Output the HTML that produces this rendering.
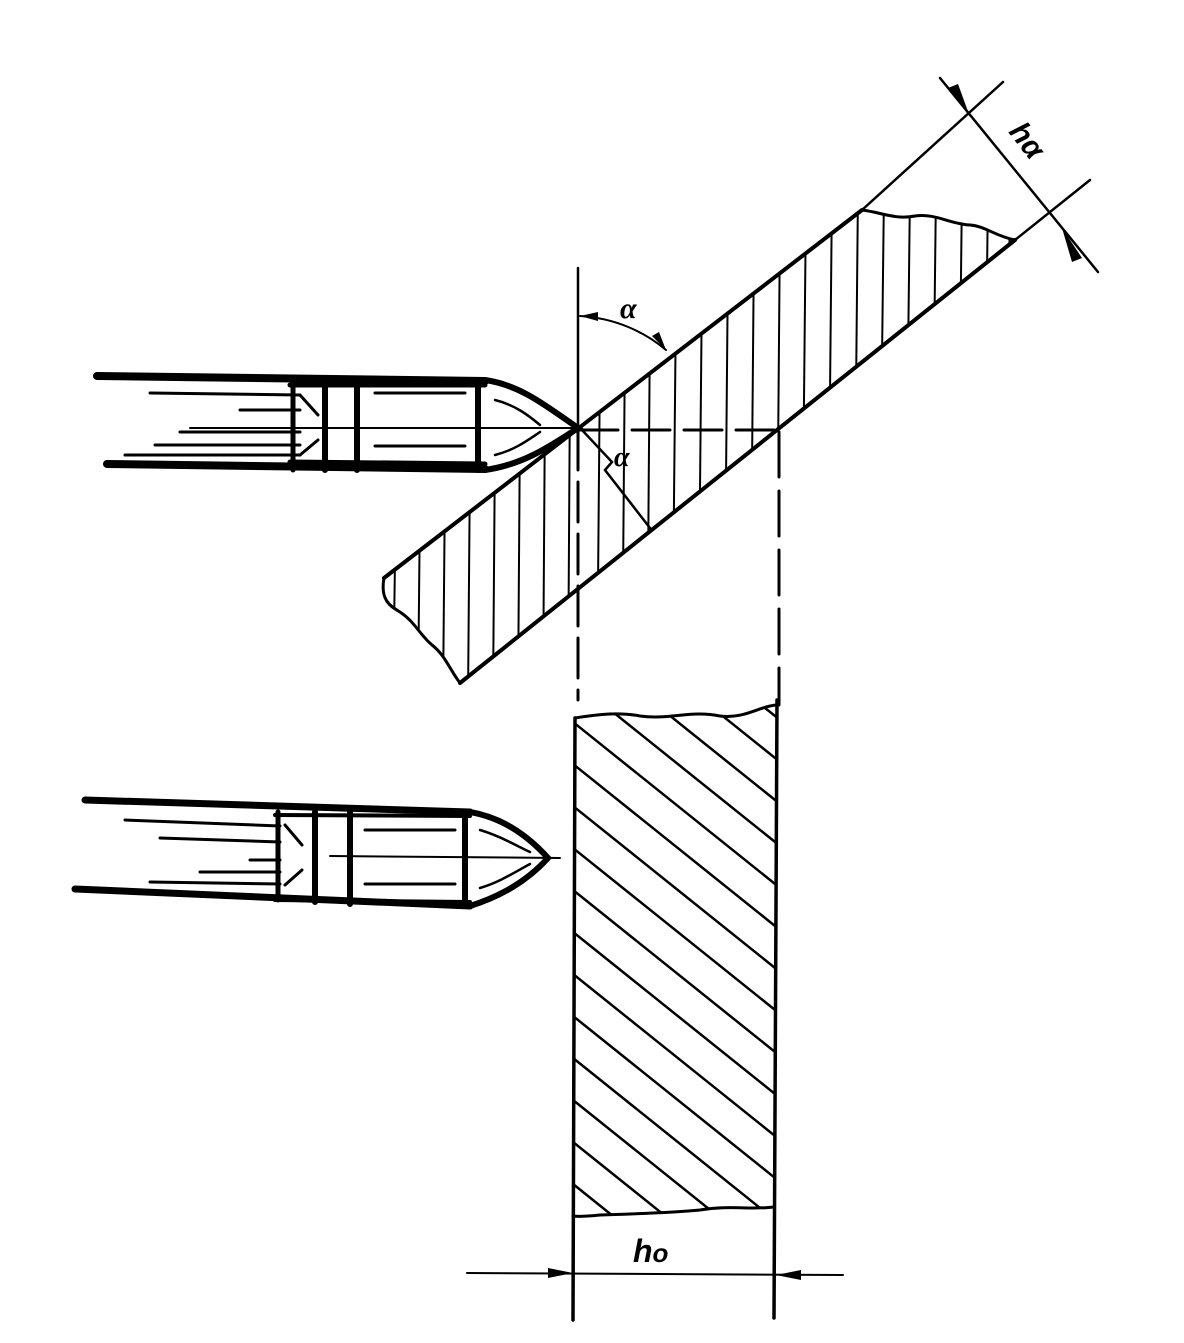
<!DOCTYPE html>
<html><head><meta charset="utf-8"><style>html,body{margin:0;padding:0;background:#fff}svg{display:block}</style></head>
<body>
<svg width="1184" height="1343" viewBox="0 0 1184 1343" xmlns="http://www.w3.org/2000/svg">
<defs>
<clipPath id="slab"><path d="M384,578 L862,210 C880,212 895,220 915,216 C935,213 950,224 970,225 C985,226 995,236 1015,240 L460,683 C450,670 445,655 432,645 C420,635 415,622 400,612 C390,606 380,600 384,578 Z"/></clipPath>
<clipPath id="rect"><path d="M575,718 C600,714 620,712 640,716 C670,720 690,710 720,716 C745,719 760,706 776,705 L774,1207 C750,1210 730,1205 700,1210 C670,1213 630,1214 600,1215 C590,1216 580,1217 573,1216 Z"/></clipPath>
</defs>
<g fill="none" stroke="#000" stroke-linecap="round">
<g clip-path="url(#slab)" stroke-width="2">
<path d="M395,560 L393,700 M420,500 L418,700 M445,480 L443,700 M470,460 L468,700 M495,440 L493,700 M520,420 L518,700 M545,400 L543,700 M570,380 L568,700 M600,360 L597,700 M625,340 L622,700 M650,320 L647,700 M676,300 L672,700 M702,280 L698,700 M728,260 L724,700 M754,240 L750,700 M780,220 L776,700 M806,200 L801,700 M832,190 L827,700 M858,190 L853,700 M884,190 L878,700 M910,190 L904,700 M936,190 L930,700 M962,190 L956,700 M988,190 L982,700 M1010,190 L1005,700"/>
</g>
<path d="M384,578 L862,210" stroke-width="4"/>
<path d="M460,683 L1015,240" stroke-width="4"/>
<path d="M862,210 C880,212 895,220 915,216 C935,213 950,224 970,225 C985,226 995,236 1015,240" stroke-width="3"/>
<path d="M384,578 C380,600 390,606 400,612 C415,622 420,635 432,645 C445,655 450,670 460,683" stroke-width="3"/>
<path d="M862,210 L1003,82" stroke-width="2.5"/>
<path d="M1015,240 L1090,180" stroke-width="2.5"/>
<path d="M940,78 L1098,272" stroke-width="2.5"/>
<g clip-path="url(#rect)" stroke-width="2.5">
<path d="M573,512 L800,694 M573,554 L800,736 M573,596 L800,778 M573,638 L800,820 M573,680 L800,862 M573,722 L800,904 M573,764 L800,946 M573,806 L800,988 M573,848 L800,1030 M573,890 L800,1072 M573,932 L800,1114 M573,974 L800,1156 M573,1016 L800,1198 M573,1058 L800,1240 M573,1100 L800,1282 M573,1142 L800,1324 M573,1184 L800,1366"/>
</g>
<path d="M575,718 C600,714 620,712 640,716 C670,720 690,710 720,716 C745,719 760,706 776,705" stroke-width="3"/>
<path d="M573,1216 C580,1217 590,1216 600,1215 C630,1214 670,1213 700,1210 C730,1205 750,1210 774,1207" stroke-width="3"/>
<path d="M575,718 L573,1320" stroke-width="3.5"/>
<path d="M777,700 L774,1318" stroke-width="3.5"/>
<path d="M578,268 L578,430" stroke-width="2.5"/>
<path d="M578,430 L578,700" stroke-width="3" stroke-dasharray="40,12"/>
<path d="M779,432 L779,705" stroke-width="3" stroke-dasharray="45,14"/>
<path d="M580,430 L779,430" stroke-width="3" stroke-dasharray="38,14"/>
<path d="M582,430 L612,462 L605,470 L650,528" stroke-width="2.5"/>
<path d="M580,316 C615,318 645,332 666,350" stroke-width="2"/>
<path d="M467,1273 L843,1275" stroke-width="2"/>
</g>
<g fill="#000">
<path d="M573,1273 L548,1268 L548,1278 Z"/>
<path d="M776,1275 L801,1270 L801,1280 Z"/>
<path d="M970,117 L948,88 L958,84 Z"/>
<path d="M1062,228 L1082,258 L1072,262 Z"/>
<path d="M580,316 L598,312 L598,321 Z"/>
<path d="M666,350 L652,336 L659,332 Z"/>
</g>
<g font-family="Liberation Serif, serif" font-style="italic" font-weight="bold" fill="#000">
<text x="620" y="318" font-size="30">α</text>
<text x="614" y="466" font-size="28">α</text>
<text x="633" y="1262" font-size="32" font-family="Liberation Sans, sans-serif">h<tspan font-size="26">o</tspan></text>
<text x="0" y="0" font-size="30" font-family="Liberation Sans, sans-serif" transform="translate(1008,132) rotate(52)">hα</text>
</g>
<g stroke="#000" fill="none" stroke-linecap="round">
<path d="M97,376 L485,381" stroke-width="8"/>
<path d="M107,464 L485,469" stroke-width="8"/>
<path d="M290,385 L485,385 M290,462 L485,464" stroke-width="5"/>
<path d="M150,393 L300,395 M240,410 L300,410 M180,432 L300,432 M155,445 L300,445 M125,455 L300,455" stroke-width="3"/>
<path d="M293,380 L293,470" stroke-width="5"/>
<path d="M325,380 L325,470 M357,380 L357,470 M478,380 L478,470" stroke-width="6"/>
<path d="M485,380 C520,385 545,405 578,428 C545,450 520,465 485,470" stroke-width="6"/>
<path d="M190,428 L580,428" stroke-width="2"/>
<path d="M375,393 L465,393 M375,446 L465,446 M300,395 L318,415 M300,455 L318,440" stroke-width="3"/>
<path d="M495,400 C515,405 528,415 540,425 M495,455 C515,450 528,440 540,432" stroke-width="2.5"/>
</g>
<g stroke="#000" fill="none" stroke-linecap="round">
<path d="M85,800 L470,812" stroke-width="7"/>
<path d="M75,889 L470,906" stroke-width="7"/>
<path d="M275,815 L470,816 M275,900 L470,902" stroke-width="4"/>
<path d="M125,820 L280,826 M160,838 L280,842 M250,860 L280,860 M200,872 L280,872 M150,882 L280,884" stroke-width="3"/>
<path d="M278,812 L278,900" stroke-width="5"/>
<path d="M315,812 L315,902 M350,812 L350,904 M465,812 L465,906" stroke-width="6"/>
<path d="M470,812 C505,818 530,838 548,858 C530,878 505,895 470,906" stroke-width="6"/>
<path d="M330,856 L560,858" stroke-width="2"/>
<path d="M365,830 L455,830 M365,884 L455,884 M285,825 L302,845 M285,885 L302,870" stroke-width="3"/>
<path d="M480,830 C500,836 515,845 530,852 M480,888 C500,882 515,872 530,864" stroke-width="2.5"/>
</g>
</svg>
</body></html>
